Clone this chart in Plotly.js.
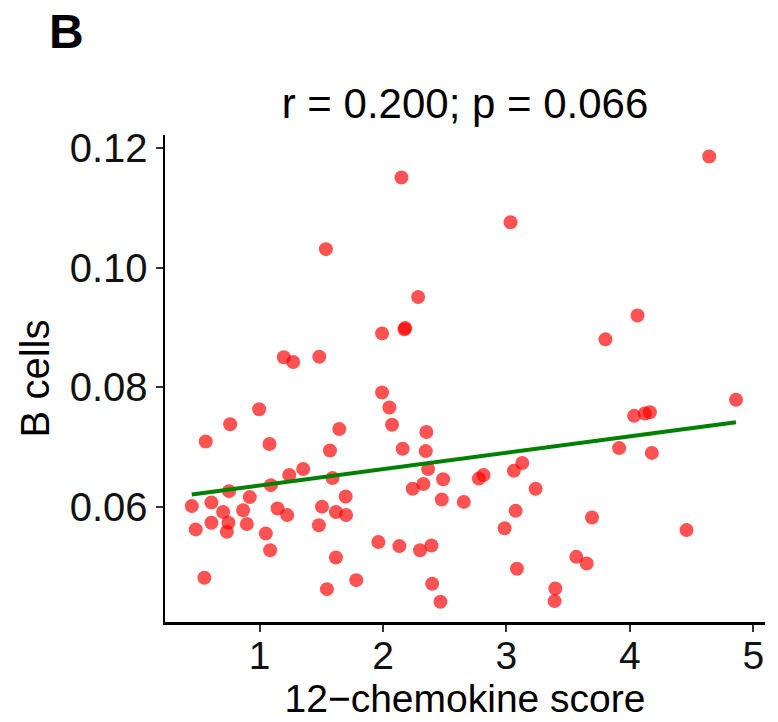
<!DOCTYPE html>
<html>
<head>
<meta charset="utf-8">
<script src="https://cdn.plot.ly/plotly-3.0.1.min.js"></script>
<style>html,body{margin:0;padding:0;background:#fff;}#chart{width:778px;height:722px;}</style>
</head>
<body>
<div id="chart"></div>
<script>
const chemokineScore = [
  2.149, 1.537, 2.284, 1.992, 2.173, 2.180, 1.196, 1.272, 1.483, 4.643, 3.033, 4.062, 3.802,
  1.992, 2.051, 0.996, 0.761, 2.073, 1.645, 2.351, 0.563, 1.080, 2.159, 2.346, 1.570,
  2.365, 1.353, 1.240, 1.591, 2.487, 1.091, 2.327, 2.240, 0.752, 0.920, 1.697, 2.476, 2.654,
  0.450, 0.609, 0.704, 0.866, 1.145, 1.223, 1.505, 1.618, 1.700,
  0.482, 0.609, 0.747, 0.734, 0.896, 1.050, 1.480, 1.085, 1.962, 2.132, 2.300, 2.392, 1.618,
  0.552, 1.783, 1.545, 2.398, 2.465,
  4.860, 4.034, 4.121, 4.162, 3.913, 4.178, 3.128, 3.060, 2.776, 2.814, 3.236, 3.074, 3.693,
  2.985, 4.459, 3.566, 3.650, 3.085, 3.396, 3.390
];
const bCells = [
  0.1151, 0.1031, 0.0951, 0.0890, 0.0897, 0.0899, 0.0850, 0.0842, 0.0851, 0.1186, 0.1076, 0.0920, 0.0880,
  0.0791, 0.0766, 0.0763, 0.0738, 0.0737, 0.0730, 0.0725, 0.0709, 0.0705, 0.0697, 0.0693, 0.0694,
  0.0663, 0.0663, 0.0653, 0.0648, 0.0646, 0.0636, 0.0638, 0.0630, 0.0626, 0.0616, 0.0617, 0.0612, 0.0608,
  0.0601, 0.0607, 0.0591, 0.0594, 0.0597, 0.0586, 0.0600, 0.0591, 0.0586,
  0.0562, 0.0573, 0.0573, 0.0558, 0.0571, 0.0555, 0.0569, 0.0527, 0.0541, 0.0534, 0.0527, 0.0535, 0.0515,
  0.0481, 0.0477, 0.0462, 0.0471, 0.0441,
  0.0779, 0.0752, 0.0756, 0.0758, 0.0698, 0.0690, 0.0673, 0.0660, 0.0647, 0.0653, 0.0630, 0.0593, 0.0582,
  0.0564, 0.0561, 0.0516, 0.0505, 0.0496, 0.0463, 0.0442
];
const xTickVals = [1, 2, 3, 4, 5];
const yTickVals = [0.06, 0.08, 0.10, 0.12];
const yTickText = ["0.06", "0.08", "0.10", "0.12"];
const titleText = "r = 0.200; p = 0.066";
const xTitle = "12\u2212chemokine score";
const yTitle = "B cells";
const panelLabel = "B";

// least-squares fit over the data range
const n = chemokineScore.length;
const mx = chemokineScore.reduce((a, b) => a + b, 0) / n;
const my = bCells.reduce((a, b) => a + b, 0) / n;
let sxy = 0, sxx = 0;
for (let i = 0; i < n; i++) { sxy += (chemokineScore[i] - mx) * (bCells[i] - my); sxx += (chemokineScore[i] - mx) ** 2; }
const slope = sxy / sxx, intercept = my - slope * mx;
const xmin = Math.min(...chemokineScore), xmax = Math.max(...chemokineScore);
const fitX = [xmin, xmax];
const fitY = fitX.map(v => intercept + slope * v);

const FONT = "Liberation Sans, Arial, sans-serif";
const traces = [
  { type: "scatter", mode: "markers", x: chemokineScore, y: bCells,
    marker: { color: "rgb(255,0,0)", opacity: 0.68, size: 14, line: { width: 0 } }, hoverinfo: "x+y" },
  { type: "scatter", mode: "lines", x: fitX, y: fitY, line: { color: "#008000", width: 4 } }
];
const layout = {
  width: 778, height: 722,
  margin: { l: 165, r: 13, t: 135, b: 100 },
  paper_bgcolor: "#fff", plot_bgcolor: "#fff",
  showlegend: false,
  font: { family: FONT, color: "#000", size: 38 },
  title: { text: titleText, x: 0.5, xref: "paper", xanchor: "center", y: 1 - 103 / 722, yanchor: "middle",
           font: { family: FONT, size: 42, color: "#000" } },
  xaxis: { range: [0.233, 5.095], tickvals: xTickVals, ticktext: xTickVals.map(String),
           showgrid: false, zeroline: false, showline: true, linecolor: "#000", linewidth: 2.5,
           ticks: "outside", ticklen: 7, tickwidth: 2, tickcolor: "#333",
           ticklabelstandoff: -9,
           tickfont: { family: FONT, size: 39, color: "#111" },
           title: { text: xTitle, font: { family: FONT, size: 39, color: "#000" }, standoff: 0 } },
  yaxis: { range: [0.0407, 0.1222], tickvals: yTickVals, ticktext: yTickText,
           showgrid: false, zeroline: false, showline: true, linecolor: "#000", linewidth: 2.5,
           ticks: "outside", ticklen: 7, tickwidth: 2, tickcolor: "#333",
           tickfont: { family: FONT, size: 40, color: "#111" },
           title: { text: yTitle, font: { family: FONT, size: 40, color: "#000" }, standoff: 8 } },
  annotations: [
    { text: "<b>" + panelLabel + "</b>", xref: "paper", yref: "paper", x: (66 - 165) / 600, y: (622 - 32) / 487,
      xanchor: "center", yanchor: "middle", showarrow: false, font: { family: FONT, size: 48, color: "#000" } }
  ]
};
Plotly.newPlot("chart", traces, layout, { displayModeBar: false, staticPlot: true });
</script>
</body>
</html>
